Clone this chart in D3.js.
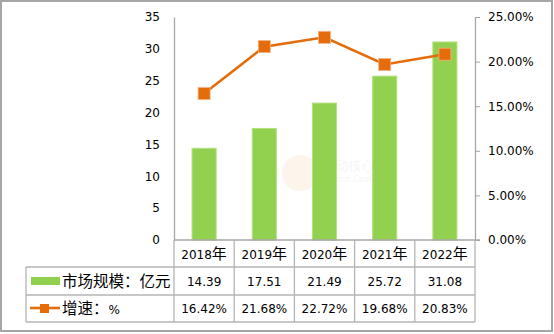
<!DOCTYPE html>
<html><head><meta charset="utf-8">
<script src="https://cdn.jsdelivr.net/npm/d3@7"></script>
<style>
html,body{margin:0;padding:0;background:#fff;}
svg text{font-family:"DejaVu Sans","Noto Sans CJK SC",sans-serif;font-size:12px;fill:#000;}
.cjk{font-family:"Noto Sans CJK SC",sans-serif;}
</style></head>
<body><svg id="c" width="554" height="334"></svg>
<script>
const categories = ["2018","2019","2020","2021","2022"];
const marketSize = [14.39, 17.51, 21.49, 25.72, 31.08];
const growth = [0.1642, 0.2168, 0.2272, 0.1968, 0.2083];
const leftTicks = [0,5,10,15,20,25,30,35];
const rightTicks = [0,0.05,0.10,0.15,0.20,0.25];
const seriesNames = ["市场规模：亿元","增速：%"];

const svg = d3.select("#c");
const L = 174, R = 475, T = 17, B = 240;
const axisColor = "#a6a6a6", gridColor = "#b4b4b4";
const barColor = "#92D050", lineColor = "#E46C0A";

// outer frame
svg.append("rect").attr("x",1).attr("y",1).attr("width",551).attr("height",330)
  .attr("fill","#fff").attr("stroke","#a6a6a6").attr("stroke-width",2);

const x = d3.scaleBand().domain(categories).range([L,R]).paddingInner(0.6).paddingOuter(0.3);
const y = d3.scaleLinear().domain([0,35]).range([B,T]);
const y2 = d3.scaleLinear().domain([0,0.25]).range([B,T]);
const step = x.step();
const colX = c => x(c) - x.paddingOuter()*step;

// watermark (faint)
const wm = svg.append("g").attr("opacity",0.08);
wm.append("circle").attr("cx",300).attr("cy",173).attr("r",18).attr("fill","#f08020");
wm.append("text").attr("x",322).attr("y",170).attr("class","cjk").style("font-size","13px").style("fill","#888").text("灵动核心");
wm.append("text").attr("x",322).attr("y",182).style("font-size","8px").style("fill","#888").text("Ldhxcn.Com");

// bars
svg.append("g").selectAll("rect").data(categories).join("rect")
  .attr("x",c=>x(c)).attr("width",x.bandwidth())
  .attr("y",(c,i)=>y(marketSize[i])).attr("height",(c,i)=>B-y(marketSize[i]))
  .attr("fill",barColor).attr("stroke","#b5e07f").attr("stroke-width",1);

// left axis
const gl = svg.append("g").attr("transform",`translate(${L},0)`)
  .call(d3.axisLeft(y).tickValues(leftTicks).tickSize(0).tickPadding(14).tickFormat(d3.format("d")));
gl.select(".domain").attr("stroke",axisColor).attr("stroke-width",1.3);
gl.selectAll("text").style("font-size","12px").attr("font-family",null);

// right axis
const gr = svg.append("g").attr("transform",`translate(${R},0)`)
  .call(d3.axisRight(y2).tickValues(rightTicks).tickSize(5).tickSizeOuter(0).tickPadding(8).tickFormat(d3.format(".2%")));
gr.select(".domain").attr("stroke",axisColor).attr("stroke-width",1.3);
gr.selectAll("line").attr("stroke",axisColor);
gr.selectAll("text").style("font-size","12px").attr("font-family",null);

// bottom axis line
svg.append("line").attr("x1",L).attr("x2",R+5).attr("y1",B).attr("y2",B).attr("stroke",axisColor).attr("stroke-width",1.3);

// line series
const line = d3.line().x((d,i)=>x(categories[i])+x.bandwidth()/2).y(d=>y2(d));
svg.append("path").datum(growth).attr("d",line).attr("fill","none")
  .attr("stroke",lineColor).attr("stroke-width",2.6);
svg.append("g").selectAll("rect").data(growth).join("rect")
  .attr("x",(d,i)=>x(categories[i])+x.bandwidth()/2-6).attr("y",d=>y2(d)-6)
  .attr("width",12).attr("height",12).attr("fill",lineColor)
  .attr("stroke","#f4b183").attr("stroke-width",0.8);

// data table
const tL = 26, r1 = 267, r2 = 295, r3 = 322;
const tg = svg.append("g").attr("stroke",gridColor).attr("stroke-width",1.3);
tg.append("line").attr("x1",tL).attr("x2",R).attr("y1",r1).attr("y2",r1);
tg.append("line").attr("x1",tL).attr("x2",R).attr("y1",r2).attr("y2",r2);
tg.append("line").attr("x1",tL).attr("x2",R).attr("y1",r3).attr("y2",r3);
tg.append("line").attr("x1",tL).attr("x2",tL).attr("y1",r1).attr("y2",r3);
categories.forEach(c=>{
  tg.append("line").attr("x1",colX(c)).attr("x2",colX(c)).attr("y1",B).attr("y2",r3);
});
tg.append("line").attr("x1",R).attr("x2",R).attr("y1",B).attr("y2",r3);

// year labels
categories.forEach(c=>{
  const t = svg.append("text").attr("x",colX(c)+step/2).attr("y",259).attr("text-anchor","middle");
  t.append("tspan").text(c);
  t.append("tspan").attr("class","cjk").style("font-size","15px").text("年");
});
// values
marketSize.forEach((v,i)=>{
  svg.append("text").attr("x",colX(categories[i])+step/2).attr("y",286).attr("text-anchor","middle").text(v.toFixed(2));
});
growth.forEach((v,i)=>{
  svg.append("text").attr("x",colX(categories[i])+step/2).attr("y",313).attr("text-anchor","middle").text(d3.format(".2%")(v));
});

// legend keys
svg.append("rect").attr("x",31).attr("y",277).attr("width",29).attr("height",8).attr("fill",barColor);
svg.append("line").attr("x1",30).attr("x2",60).attr("y1",308).attr("y2",308).attr("stroke",lineColor).attr("stroke-width",2.6);
svg.append("rect").attr("x",40).attr("y",304).attr("width",9).attr("height",9).attr("fill",lineColor);
svg.append("text").attr("x",62).attr("y",287).attr("class","cjk").style("font-size","15.5px").text(seriesNames[0]);
const t2 = svg.append("text").attr("x",62).attr("y",314);
t2.append("tspan").attr("class","cjk").style("font-size","15.5px").text("增速：");
t2.append("tspan").text("%");
</script></body></html>
